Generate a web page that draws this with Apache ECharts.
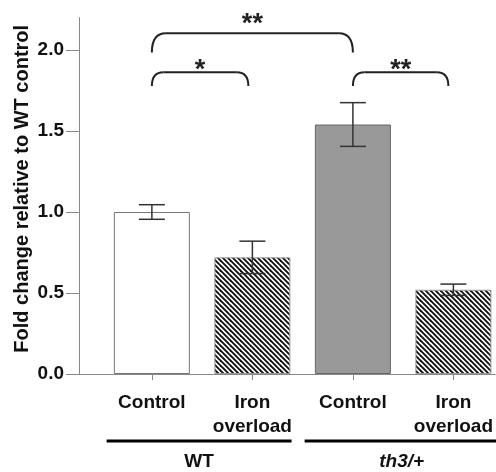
<!DOCTYPE html>
<html><head><meta charset="utf-8">
<script src="https://cdn.jsdelivr.net/npm/echarts@6/dist/echarts.min.js"></script>
<style>html,body{margin:0;padding:0;background:#fff}#c{width:496px;height:472px}</style>
</head><body><div id="c"></div>
<script>
// ---- data ----
const categories = ['Control', 'Iron\noverload', 'Control', 'Iron\noverload'];
const categoryPos = [1, 2, 3, 4];
const means = [1.00, 0.72, 1.54, 0.52];
const errors = [0.045, 0.10, 0.135, 0.035];
const yTicks = [0, 0.5, 1.0, 1.5, 2.0];
const groupNames = ['WT', 'th3/+'];
const groupSpans = [[0.55, 2.39], [2.52, 4.45]];
// bracket: [x1, x2, yTop, yEnd, starY]
const brackets = [[1, 3, 2.103, 1.985, 2.198], [1, 1.96, 1.862, 1.778, 1.914], [3, 3.95, 1.862, 1.778, 1.914]];
const bracketLabels = ['**', '*', '**'];

const FONT = '"Liberation Sans", Arial, sans-serif';

function hatch() {
  const c = document.createElement('canvas');
  const T = 10; c.width = T; c.height = T;
  const g = c.getContext('2d');
  g.fillStyle = '#fff'; g.fillRect(0, 0, T, T);
  g.strokeStyle = '#111'; g.lineWidth = 1.9;
  for (let k = -3; k <= 3; k++) {
    const cx = k * 5;
    g.beginPath(); g.moveTo(cx - 2, -2); g.lineTo(cx + T + 2, T + 2); g.stroke();
  }
  return c;
}
const hatchFill = { image: hatch(), repeat: 'repeat' };
const barStyles = [
  { color: '#ffffff', borderColor: '#777', borderWidth: 1 },
  { color: hatchFill, borderColor: '#999', borderWidth: 1 },
  { color: '#999999', borderColor: '#666', borderWidth: 1 },
  { color: hatchFill, borderColor: '#999', borderWidth: 1 }
];

const chart = echarts.init(document.getElementById('c'));
chart.setOption({
  animation: false,
  backgroundColor: '#fff',
  grid: { left: 79, right: 0, top: 17.6, bottom: 98 },
  xAxis: {
    type: 'value', min: 0.275, max: 4.416,
    splitLine: { show: false },
    axisLine: { lineStyle: { color: '#888', width: 1 } },
    axisTick: { show: true, customValues: categoryPos, length: 6, lineStyle: { color: '#888' } },
    axisLabel: {
      customValues: categoryPos,
      formatter: v => categories[Math.round(v) - 1] || '',
      fontFamily: FONT, fontWeight: 'bold', fontSize: 19, lineHeight: 24,
      color: '#111', margin: 17
    }
  },
  yAxis: {
    type: 'value', min: 0, max: 2.2,
    splitLine: { show: false },
    axisLine: { show: true, lineStyle: { color: '#888', width: 1 } },
    axisTick: { show: true, customValues: yTicks, length: 13, lineStyle: { color: '#888' } },
    axisLabel: {
      customValues: yTicks, formatter: v => v.toFixed(1),
      fontFamily: FONT, fontWeight: 'bold', fontSize: 19, color: '#111', margin: 15
    },
    name: 'Fold change relative to WT control',
    nameLocation: 'middle', nameGap: 47, nameMoveOverlap: false,
    nameTextStyle: { fontFamily: FONT, fontWeight: 'bold', fontSize: 20, color: '#111', padding: [0, 0, 0, 14] }
  },
  series: [
    {
      type: 'bar', barWidth: 76, z: 2,
      data: categoryPos.map((x, i) => ({ value: [x, means[i]], itemStyle: barStyles[i] }))
    },
    {
      type: 'custom', z: 3, clip: false,
      data: categoryPos.map((x, i) => [x, means[i], errors[i]]),
      renderItem: (params, api) => {
        const x = api.value(0), m = api.value(1), e = api.value(2);
        const t = api.coord([x, m + e]), b = api.coord([x, m - e]);
        const hw = 13;
        const st = { stroke: '#333', lineWidth: 1.5 };
        return { type: 'group', children: [
          { type: 'line', shape: { x1: t[0], y1: t[1], x2: b[0], y2: b[1] }, style: st },
          { type: 'line', shape: { x1: t[0] - hw, y1: t[1], x2: t[0] + hw, y2: t[1] }, style: st },
          { type: 'line', shape: { x1: b[0] - hw, y1: b[1], x2: b[0] + hw, y2: b[1] }, style: st }
        ]};
      }
    },
    {
      type: 'custom', z: 4, clip: false,
      data: brackets,
      renderItem: (params, api) => {
        const x1 = api.value(0), x2 = api.value(1), yt = api.value(2), ye = api.value(3), sy = api.value(4);
        const a = api.coord([x1, yt]), b = api.coord([x2, yt]), ae = api.coord([x1, ye]), s = api.coord([(x1 + x2) / 2, sy]);
        const drop = ae[1] - a[1];
        const r = Math.min(14, drop * 0.85);
        const st = { stroke: '#222', lineWidth: 2, fill: null };
        return { type: 'group', children: [
          { type: 'bezierCurve', shape: { x1: a[0], y1: ae[1], cpx1: a[0], cpy1: a[1], x2: a[0] + r, y2: a[1] }, style: st },
          { type: 'line', shape: { x1: a[0] + r, y1: a[1], x2: b[0] - r, y2: b[1] }, style: st },
          { type: 'bezierCurve', shape: { x1: b[0] - r, y1: b[1], cpx1: b[0], cpy1: b[1], x2: b[0], y2: ae[1] }, style: st },
          { type: 'text', style: { x: s[0], y: s[1] + 7, text: bracketLabels[params.dataIndex], align: 'center', verticalAlign: 'middle',
            font: 'bold 27px ' + FONT, fill: '#222' } }
        ]};
      }
    },
    {
      type: 'custom', z: 4, clip: false,
      data: groupSpans,
      renderItem: (params, api) => {
        const a = api.coord([api.value(0), 0]), b = api.coord([api.value(1), 0]);
        const y = a[1] + 67;
        const italic = params.dataIndex === 1 ? 'italic ' : '';
        return { type: 'group', children: [
          { type: 'line', shape: { x1: a[0], y1: y, x2: b[0], y2: y }, style: { stroke: '#000', lineWidth: 3 } },
          { type: 'text', style: { x: (a[0] + b[0]) / 2, y: y + 21, text: groupNames[params.dataIndex], align: 'center', verticalAlign: 'middle',
            font: italic + 'bold 19px ' + FONT, fill: '#111' } }
        ]};
      }
    }
  ]
});
</script></body></html>
